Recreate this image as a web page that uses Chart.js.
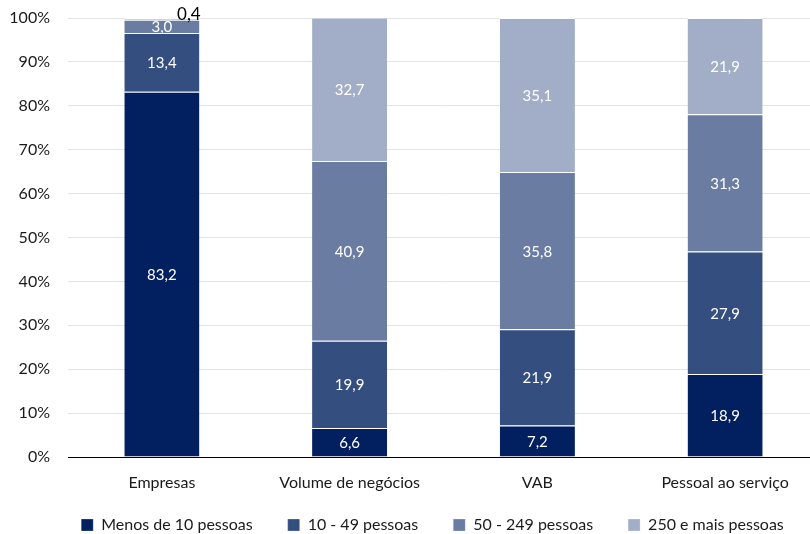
<!DOCTYPE html>
<html>
<head>
<meta charset="utf-8">
<script src="https://cdn.jsdelivr.net/npm/chart.js@4/dist/chart.umd.min.js"></script>
<style>
  html, body { margin: 0; padding: 0; background: #fff; overflow: hidden; }
  #wrap { position: relative; width: 819px; height: 534px; }
</style>
</head>
<body>
<div id="wrap"><canvas id="c"></canvas></div>
<script>
// Distribuição por escalão de pessoal ao serviço (%)
const categories = ['Empresas', 'Volume de negócios', 'VAB', 'Pessoal ao serviço'];
const seriesNames = ['Menos de 10 pessoas', '10 - 49 pessoas', '50 - 249 pessoas', '250 e mais pessoas'];
const menos10 = [83.2, 6.6, 7.2, 18.9];
const de10a49 = [13.4, 19.9, 21.9, 27.9];
const de50a249 = [3.0, 40.9, 35.8, 31.3];
const mais250 = [0.4, 32.7, 35.1, 21.9];
const yTicks = [0, 10, 20, 30, 40, 50, 60, 70, 80, 90, 100];

const colors = ['#02205f', '#344e80', '#6a7ca2', '#a2aec7'];
const FONT = 'Lato, "Open Sans", sans-serif';

const fmt = v => v.toFixed(1).replace('.', ',');

// Value labels inside each segment; tiny segments get an outside black label
const segmentLabels = {
  id: 'segmentLabels',
  afterDatasetsDraw(chart) {
    const ctx = chart.ctx;
    ctx.save();
    ctx.textAlign = 'center';
    ctx.textBaseline = 'middle';
    chart.data.datasets.forEach((ds, di) => {
      const meta = chart.getDatasetMeta(di);
      meta.data.forEach((bar, i) => {
        const v = ds.data[i];
        const h = Math.abs(bar.base - bar.y);
        if (h >= 12) {
          ctx.font = '15px ' + FONT;
          ctx.fillStyle = '#ffffff';
          ctx.fillText(fmt(v), bar.x, (bar.y + bar.base) / 2 + 1);
        } else {
          ctx.font = '17px ' + FONT;
          ctx.fillStyle = '#000000';
          ctx.fillText(fmt(v), bar.x + 27, bar.y - 3);
        }
      });
    });
    ctx.restore();
  }
};

// Compact legend band: keep wide item spacing without a tall legend box
const LEGEND_H = 32;
const LEGEND_RAISE = 20;
const legendPlacement = {
  id: 'legendPlacement',
  beforeUpdate(chart) {
    const lg = chart.legend;
    if (lg && !lg._compactFit) {
      const fit = lg.fit.bind(lg);
      lg.fit = function () { fit(); if (this.isHorizontal()) this.height = LEGEND_H; };
      lg._compactFit = true;
    }
  },
  afterLayout(chart) {
    const lg = chart.legend;
    if (!lg) return;
    lg.top -= LEGEND_RAISE;
    lg.height += LEGEND_RAISE;
    lg.left += 23; lg.right += 23;
  }
};

const datasets = [menos10, de10a49, de50a249, mais250].map((d, k) => ({
  label: seriesNames[k],
  data: d,
  backgroundColor: colors[k],
  borderColor: '#ffffff',
  borderWidth: { top: 1, bottom: 0, left: 0, right: 0 },
  borderSkipped: false,
  barPercentage: 0.4,
  categoryPercentage: 1.0
}));

new Chart(document.getElementById('c'), {
  type: 'bar',
  data: { labels: categories, datasets },
  options: {
    responsive: true,
    maintainAspectRatio: false,
    animation: false,
    layout: { padding: { top: 18, right: 0, bottom: 0, left: 0 } },
    plugins: {
      legend: {
        position: 'bottom',
        labels: {
          boxWidth: 12,
          boxHeight: 12,
          padding: 35,
          color: '#1a1a1a',
          font: { family: FONT, size: 16 }
        }
      },
      tooltip: { enabled: false }
    },
    scales: {
      x: {
        stacked: true,
        grid: { display: false, drawTicks: false },
        border: { display: true, color: '#000000', width: 1 },
        ticks: { color: '#1a1a1a', padding: 16, font: { family: FONT, size: 16 } },
        afterFit(scale) { scale.height = 45; }
      },
      y: {
        stacked: true,
        min: 0,
        max: 100,
        afterBuildTicks(scale) { scale.ticks = yTicks.map(v => ({ value: v })); },
        grid: { color: '#e4e4e4', drawTicks: false },
        border: { display: false },
        ticks: {
          color: '#1a1a1a',
          padding: 18,
          font: { family: FONT, size: 16 },
          callback: v => v + '%'
        },
        afterFit(scale) {
          scale.width = 68;
          scale.paddingTop = 0;
          scale.paddingBottom = 0;
        }
      }
    }
  },
  plugins: [segmentLabels, legendPlacement]
});
</script>
</body>
</html>
